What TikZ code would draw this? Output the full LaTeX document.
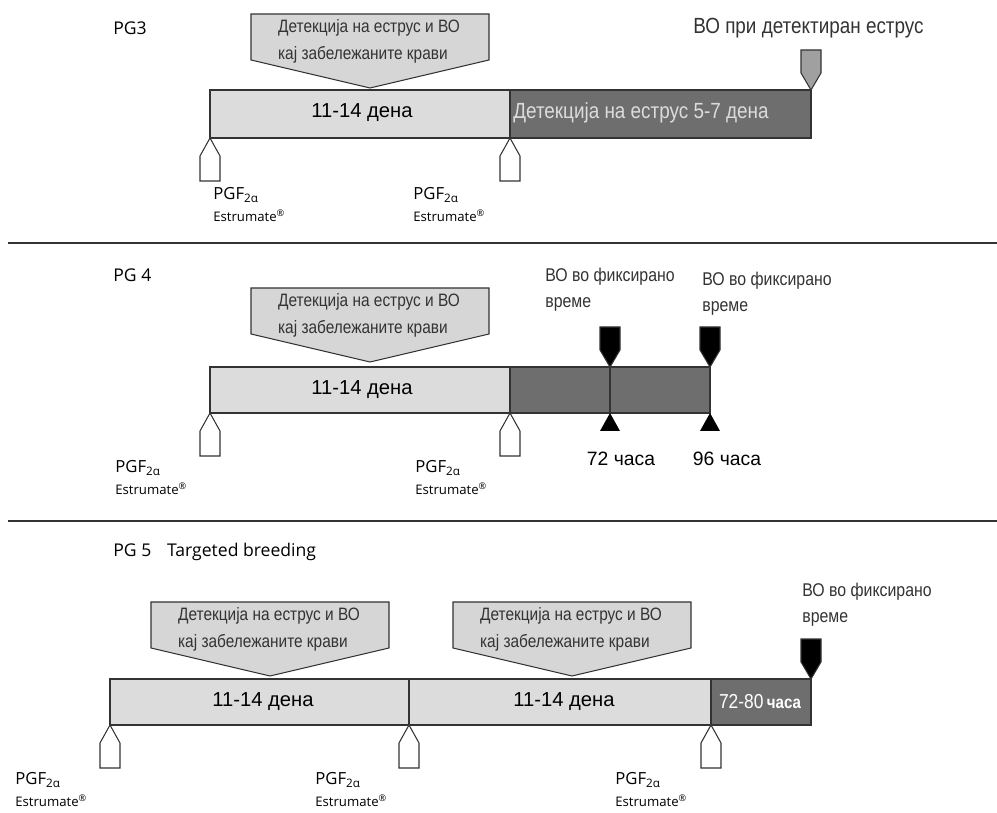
\documentclass[tikz,border=0pt]{standalone}
\usepackage{fontspec}
\setmainfont{Liberation Sans}
\newfontfamily\narrowfont[FakeStretch=0.86]{Liberation Sans}
\newfontfamily\titlefont{Open Sans}
\definecolor{barlight}{HTML}{DCDCDC}
\definecolor{bardark}{HTML}{6E6E6E}
\definecolor{callfill}{HTML}{D6D6D6}
\definecolor{tipgray}{HTML}{A0A0A0}
\definecolor{inkgray}{HTML}{333333}

\tikzset{
  lightbar/.style={draw=inkgray, fill=barlight, line width=0.7pt},
  darkbar/.style={draw=inkgray, fill=bardark, line width=0.7pt},
  separator/.style={draw=inkgray, line width=1pt},
  title/.style={anchor=west, inner sep=0pt, font=\titlefont\fontsize{10}{12}\selectfont},
  daytext/.style={inner sep=0pt, font=\fontsize{11.5}{13}\selectfont},
  botext/.style={anchor=north west, align=left, inner sep=0pt, text=inkgray,
                 font=\narrowfont\fontsize{10.5}{14.5}\selectfont},
  pgflabel/.style={anchor=north west, align=left, inner sep=0pt,
                   font=\titlefont\fontsize{9.5}{12.5}\selectfont},
  hourtext/.style={inner sep=0pt, font=\fontsize{11}{13}\selectfont},
  pgfup/.pic={\draw[inkgray, fill=white, line width=0.6pt]
                (0,0) -- (10,18) -- (10,43) -- (-10,43) -- (-10,18) -- cycle;},
  bodown/.pic={\draw[draw=inkgray, fill=#1, line width=0.6pt]
                (0,0) -- (10,-17) -- (10,-40) -- (-10,-40) -- (-10,-17) -- cycle;},
  hourmark/.pic={\fill[black] (0,0) -- (10,18) -- (-10,18) -- cycle;},
  callout/.pic={\draw[inkgray, fill=callfill, line width=0.6pt]
                (-119,-74) -- (119,-74) -- (119,-28) -- (0,0) -- (-119,-28) -- cycle;
                \node[align=left, inner sep=0pt, text=inkgray,
                      font=\narrowfont\fontsize{10.2}{15.5}\selectfont] (-txt) at (-1,-47)
                     {Детекција на еструс и ВО\\кај забележаните крави};}
}

\begin{document}
\begin{tikzpicture}[x=0.02cm, y=-0.02cm]
  \useasboundingbox (0,0) rectangle (997,813);

  % PG3
  \node[title] (pg3) at (113,28) {PG3};
  \draw[lightbar] (210,90) rectangle (510,138);
  \draw[darkbar] (510,90) rectangle (811,138);
  \node[daytext] (pg3days) at (362,113) {11-14 дена};
  \node[daytext, anchor=west, text=barlight, font=\narrowfont\fontsize{12.5}{14}\selectfont]
       (pg3detect) at (513,113) {Детекција на еструс 5-7 дена};
  \pic (pg3call) at (370,88) {callout};
  \pic (pg3up1) at (210,138) {pgfup};
  \pic (pg3up2) at (510,138) {pgfup};
  \pic (pg3bo) at (811,90) {bodown=tipgray};
  \node[botext, font=\narrowfont\fontsize{12.5}{14}\selectfont] (pg3botext) at (693,18)
       {ВО при детектиран еструс};
  \node[pgflabel] (pg3pgf1) at (213,187) {PGF\textsubscript{2α}\\{\fontsize{7.5}{9}\selectfont Estrumate\textsuperscript{®}}};
  \node[pgflabel] (pg3pgf2) at (413,187) {PGF\textsubscript{2α}\\{\fontsize{7.5}{9}\selectfont Estrumate\textsuperscript{®}}};

  \draw[separator] (8,243) -- (997,243);

  % PG 4
  \node[title] (pg4) at (113,275) {PG 4};
  \draw[lightbar] (210,367) rectangle (510,413);
  \draw[darkbar] (510,367) rectangle (610,413);
  \draw[darkbar] (610,367) rectangle (710,413);
  \node[daytext] (pg4days) at (362,390) {11-14 дена};
  \pic (pg4call) at (370,362) {callout};
  \pic (pg4up1) at (210,413) {pgfup};
  \pic (pg4up2) at (510,413) {pgfup};
  \pic (pg4bo1) at (610,367) {bodown=black};
  \pic (pg4bo2) at (710,367) {bodown=black};
  \pic (pg4h1) at (610,413) {hourmark};
  \pic (pg4h2) at (710,413) {hourmark};
  \node[hourtext] (pg4h72) at (621,459) {72 часа};
  \node[hourtext] (pg4h96) at (727,459) {96 часа};
  \node[botext] (pg4bo1text) at (545,268) {ВО во фиксирано\\време};
  \node[botext] (pg4bo2text) at (702,272) {ВО во фиксирано\\време};
  \node[pgflabel] (pg4pgf1) at (115,460) {PGF\textsubscript{2α}\\{\fontsize{7.5}{9}\selectfont Estrumate\textsuperscript{®}}};
  \node[pgflabel] (pg4pgf2) at (415,460) {PGF\textsubscript{2α}\\{\fontsize{7.5}{9}\selectfont Estrumate\textsuperscript{®}}};

  \draw[separator] (8,521) -- (997,521);

  % PG 5
  \node[title] (pg5) at (113,552) {PG 5\hspace{0.9em}Targeted breeding};
  \draw[lightbar] (110,679) rectangle (409,725);
  \draw[lightbar] (409,679) rectangle (711,725);
  \draw[darkbar] (711,679) rectangle (811,725);
  \node[daytext] (pg5days1) at (263,702) {11-14 дена};
  \node[daytext] (pg5days2) at (564,702) {11-14 дена};
  \node[daytext, text=white, font=\narrowfont\fontsize{11.5}{13}\selectfont]
       (pg5hours) at (760,702) {72-80\,{\bfseries\fontsize{10}{12}\selectfont часа}};
  \pic (pg5call1) at (270,676) {callout};
  \pic (pg5call2) at (572,676) {callout};
  \pic (pg5up1) at (110,725) {pgfup};
  \pic (pg5up2) at (409,725) {pgfup};
  \pic (pg5up3) at (711,725) {pgfup};
  \pic (pg5bo) at (811,679) {bodown=black};
  \node[botext] (pg5botext) at (802,583) {ВО во фиксирано\\време};
  \node[pgflabel] (pg5pgf1) at (15,772) {PGF\textsubscript{2α}\\{\fontsize{7.5}{9}\selectfont Estrumate\textsuperscript{®}}};
  \node[pgflabel] (pg5pgf2) at (315,772) {PGF\textsubscript{2α}\\{\fontsize{7.5}{9}\selectfont Estrumate\textsuperscript{®}}};
  \node[pgflabel] (pg5pgf3) at (615,772) {PGF\textsubscript{2α}\\{\fontsize{7.5}{9}\selectfont Estrumate\textsuperscript{®}}};
\end{tikzpicture}
\end{document}
